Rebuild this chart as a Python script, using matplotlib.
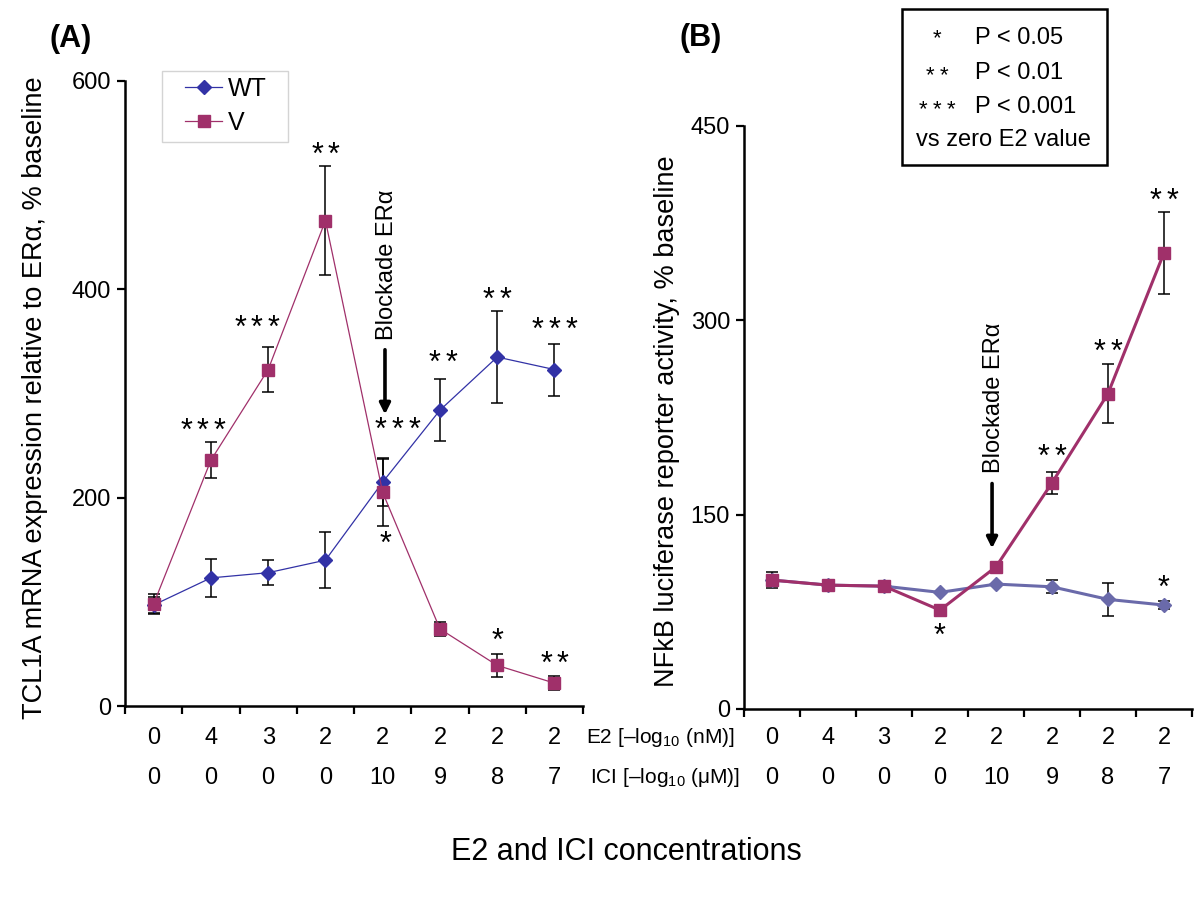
import matplotlib
matplotlib.use("Agg")
import matplotlib.pyplot as plt
import matplotlib.transforms as mtransforms
from matplotlib.patches import Rectangle
from matplotlib.legend_handler import HandlerLine2D
import numpy as np

plt.rcParams['font.family'] = ['Liberation Sans', 'DejaVu Sans']
plt.rcParams['mathtext.fontset'] = 'custom'
plt.rcParams['mathtext.rm'] = 'Liberation Sans'

# conditions
e2_labels = ['0', '4', '3', '2', '2', '2', '2', '2']
ici_labels = ['0', '0', '0', '0', '10', '9', '8', '7']

# panel A: TCL1A mRNA
a_wt = [97, 123, 128, 140, 215, 284, 335, 323]
a_wt_err = [8, 18, 12, 27, 23, 30, 44, 25]
a_v = [98, 236, 323, 466, 205, 74, 39, 22]
a_v_err = [10, 17, 22, 52, 32, 7, 11, 7]

# panel B: NFkB reporter
b_wt = [99.5, 95.6, 94.8, 90, 96.4, 94.3, 84.6, 80.2]
b_wt_err = [0, 0, 0, 0, 0, 5, 12.5, 3]
b_v = [99.5, 95.6, 94.8, 76.3, 109.7, 174.5, 243.4, 352]
b_v_err = [6.5, 0, 0, 0, 0, 8.5, 22.5, 31.5]

# significance marks: (category index, y, number of stars, x shift)
a_stars = [(1, 267, 3, -0.14), (2, 366, 3, -0.2), (3, 532, 2, 0),
           (4, 268, 3, 0.26), (4, 159, 1, 0.05), (5, 332, 2, 0.05),
           (6, 393, 2, 0), (7, 364, 3, 0), (6, 66, 1, 0), (7, 44, 2, 0)]
b_stars = [(3, 58.6, 1, 0), (5, 197, 2, 0), (6, 278, 2, 0),
           (7, 395, 2, 0), (7, 95.6, 1, 0)]

WT_A = '#3232a6'
WT_B = '#6a6aaa'
V_COL = '#a0306a'

fig = plt.figure(figsize=(12, 8.97), dpi=100)
axA = fig.add_axes([0.1042, 0.2129, 0.3817, 0.6968])
axB = fig.add_axes([0.62, 0.2096, 0.3733, 0.650])

x = np.arange(8) + 0.5


def draw_errors(ax, vals, errs):
    vals = np.array(vals, float)
    errs = np.array(errs, float)
    m = errs > 0
    ax.errorbar(x[m], vals[m], yerr=errs[m], fmt='none', ecolor='black',
                elinewidth=1.1, capsize=4, capthick=1.1, zorder=2)


def stars(ax, xi, y, n, fs=22, pitch=12, trans=None):
    # each asterisk drawn separately so the spacing matches the figure
    for k in range(n):
        dx = (k - (n - 1) / 2) * pitch
        ax.annotate('*', (xi, y), xycoords=trans or 'data',
                    xytext=(dx, -0.4 * fs), textcoords='offset points',
                    ha='center', va='baseline', fontsize=fs)


def style(ax, ymax, yticks):
    ax.set_xlim(0, 8)
    ax.set_ylim(0, ymax)
    ax.set_xticks(range(9))
    ax.set_xticklabels([])
    ax.set_yticks(yticks)
    ax.tick_params(axis='both', direction='out', length=6, width=1.6,
                   labelsize=17, color='black')
    ax.tick_params(axis='y', pad=4)
    for sp in ['top', 'right']:
        ax.spines[sp].set_visible(False)
    for sp in ['left', 'bottom']:
        ax.spines[sp].set_linewidth(1.8)
    ax.patch.set_alpha(0)
    tr = mtransforms.blended_transform_factory(ax.transData, fig.transFigure)
    for i in range(8):
        ax.text(x[i], 0.1773, e2_labels[i], transform=tr, ha='center',
                va='center', fontsize=17)
        ax.text(x[i], 0.1327, ici_labels[i], transform=tr, ha='center',
                va='center', fontsize=17)


# ---- panel A
draw_errors(axA, a_wt, a_wt_err)
draw_errors(axA, a_v, a_v_err)
axA.plot(x, a_wt, color=WT_A, lw=0.9, marker='D', ms=7.5, label='WT', zorder=3)
axA.plot(x, a_v, color=V_COL, lw=0.9, marker='s', ms=8.5, label='V', zorder=4)
style(axA, 600, [0, 200, 400, 600])
for ci, y, n, dx in a_stars:
    stars(axA, x[ci] + dx, y, n)
axA.text(4.58, 424, 'Blockade ER\u03b1', rotation=90, ha='center', va='center',
         fontsize=17)
axA.annotate('', xy=(4.54, 280), xytext=(4.54, 342),
             arrowprops=dict(arrowstyle='-|>', lw=2.6, color='black',
                             mutation_scale=16, shrinkA=0, shrinkB=0))
axA.legend(loc='upper left', bbox_to_anchor=(0.1026, 1.006), fontsize=18,
           frameon=False, handlelength=2.0, handletextpad=0.25,
           labelspacing=0.4, borderpad=0, borderaxespad=0,
           handler_map={plt.Line2D: HandlerLine2D(xpad=0.52)})
axA.add_patch(Rectangle((0.0808, 0.9024), 0.275, 0.1136, transform=axA.transAxes,
                        fill=False, edgecolor='#d4d4d4', linewidth=1.0,
                        clip_on=False))

# ---- panel B
draw_errors(axB, b_wt, b_wt_err)
draw_errors(axB, b_v, b_v_err)
axB.plot(x, b_wt, color=WT_B, lw=2.2, marker='D', ms=7, zorder=3)
axB.plot(x, b_v, color=V_COL, lw=2.2, marker='s', ms=8, zorder=4)
style(axB, 450, [0, 150, 300, 450])
for ci, y, n, dx in b_stars:
    stars(axB, x[ci] + dx, y, n)
axB.text(4.46, 240, 'Blockade ER\u03b1', rotation=90, ha='center', va='center',
         fontsize=17)
axB.annotate('', xy=(4.43, 124), xytext=(4.43, 174),
             arrowprops=dict(arrowstyle='-|>', lw=2.6, color='black',
                             mutation_scale=16, shrinkA=0, shrinkB=0))

# ---- labels
fig.text(0.029, 0.557, 'TCL1A mRNA expression relative to ER\u03b1, % baseline',
         rotation=90, ha='center', va='center', fontsize=19.5)
fig.text(0.556, 0.530, 'NFkB luciferase reporter activity, % baseline',
         rotation=90, ha='center', va='center', fontsize=19.5)
fig.text(0.6125, 0.1773, 'E2 [\u2013log$_{\\mathregular{10}}$ (nM)]', ha='right',
         va='center', fontsize=15)
fig.text(0.6167, 0.1327, 'ICI [\u2013log$_{\\mathregular{10}}$ (\u03bcM)]', ha='right',
         va='center', fontsize=15)
fig.text(0.522, 0.050, 'E2 and ICI concentrations', ha='center', va='center',
         fontsize=22)
fig.text(0.0587, 0.9565, '(A)', ha='center', va='center', fontsize=22,
         fontweight='bold')
fig.text(0.584, 0.958, '(B)', ha='center', va='center', fontsize=22,
         fontweight='bold')

# ---- significance key
fig.patches.append(Rectangle((0.7517, 0.816), 0.1708, 0.1739, transform=fig.transFigure,
                             fill=False, edgecolor='black', linewidth=1.8))
key_rows = [(1, 'P < 0.05', 38, 35), (2, 'P < 0.01', 73, 72), (3, 'P < 0.001', 107, 106)]
for n, txt, ypx, spx in key_rows:
    stars(axB, 937 / 1200, 1 - spx / 897, n, fs=16, pitch=10,
          trans=fig.transFigure)
    fig.text(975 / 1200, 1 - ypx / 897, txt, ha='left', va='center', fontsize=17)
fig.text(1003 / 1200, 1 - 140 / 897, 'vs zero E2 value', ha='center', va='center',
         fontsize=17)

fig.savefig('out.png', dpi=100)
